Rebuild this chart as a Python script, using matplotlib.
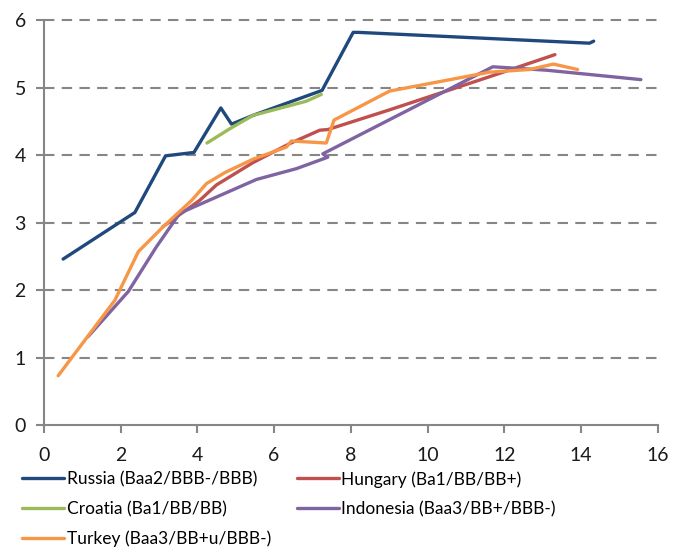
import matplotlib
matplotlib.use("Agg")
import matplotlib.pyplot as plt

plt.rcParams['font.family'] = ['Lato', 'DejaVu Sans']

# series (x, y)
russia_x = [0.50, 2.37, 3.17, 3.91, 4.61, 4.89, 5.45, 7.25, 8.06, 8.20, 14.22, 14.33]
russia_y = [2.46, 3.15, 3.99, 4.04, 4.70, 4.46, 4.59, 4.96, 5.82, 5.82, 5.66, 5.69]

hungary_x = [3.10, 4.06, 4.50, 5.45, 6.40, 7.19, 7.40, 9.00, 11.60, 13.32]
hungary_y = [2.94, 3.33, 3.56, 3.89, 4.17, 4.37, 4.38, 4.67, 5.16, 5.49]

croatia_x = [4.25, 4.84, 5.45, 6.84, 7.23]
croatia_y = [4.18, 4.39, 4.59, 4.80, 4.90]

indonesia_x = [1.15, 2.20, 2.93, 3.54, 4.06, 5.54, 6.58, 7.40, 7.27, 11.70, 13.09, 15.56]
indonesia_y = [1.31, 1.98, 2.64, 3.14, 3.27, 3.64, 3.80, 3.97, 4.02, 5.31, 5.26, 5.12]

turkey_x = [0.37, 1.85, 2.46, 3.11, 3.85, 4.24, 4.71, 5.45, 6.32, 6.45, 7.36, 7.56,
            9.01, 11.61, 12.66, 13.28, 13.91]
turkey_y = [0.73, 1.85, 2.57, 2.94, 3.33, 3.58, 3.74, 3.94, 4.12, 4.21, 4.18, 4.52,
            4.95, 5.23, 5.27, 5.35, 5.27]

labels = ["Russia (Baa2/BBB-/BBB)", "Hungary (Ba1/BB/BB+)", "Croatia (Ba1/BB/BB)",
          "Indonesia (Baa3/BB+/BBB-)", "Turkey (Baa3/BB+u/BBB-)"]
colors = ["#1F497D", "#C0504D", "#9BBB59", "#8064A2", "#F79646"]

fig = plt.figure(figsize=(6.76, 5.47), dpi=100)
ax = fig.add_axes([0.065, 0.223, 0.908, 0.74])

gray = "#868686"
for y in range(1, 7):
    ax.axhline(y, color=gray, lw=1.5, ls=(0, (5, 3.5)), zorder=1, clip_on=False)

data = [(russia_x, russia_y), (hungary_x, hungary_y), (croatia_x, croatia_y),
        (indonesia_x, indonesia_y), (turkey_x, turkey_y)]
lines = []
for (xs, ys), lab, c in zip(data, labels, colors):
    ln, = ax.plot(xs, ys, color=c, lw=2.4, label=lab, zorder=3,
                  solid_capstyle='round', solid_joinstyle='round')
    lines.append(ln)

ax.set_xlim(0, 16)
ax.set_ylim(0, 6)
ax.set_xticks(range(0, 17, 2))
ax.set_yticks(range(0, 7))
for s in ['top', 'right']:
    ax.spines[s].set_visible(False)
for s in ['left', 'bottom']:
    ax.spines[s].set_color(gray)
    ax.spines[s].set_linewidth(1.5)
ax.tick_params(colors=gray, width=1.5, length=6, labelcolor="#1a1a1a", labelsize=14)
ax.tick_params(axis='y', pad=7)
ax.tick_params(axis='x', pad=10)

order = [0, 2, 4, 1, 3]
fig.legend([lines[i] for i in order], [labels[i] for i in order], ncol=2,
           loc='upper left', bbox_to_anchor=(0.033, 0.139), frameon=False,
           fontsize=12.5, handlelength=2.4, handletextpad=0.15, labelspacing=0.78,
           columnspacing=1.5, borderpad=0, borderaxespad=0)

fig.savefig("out.png", dpi=100)
